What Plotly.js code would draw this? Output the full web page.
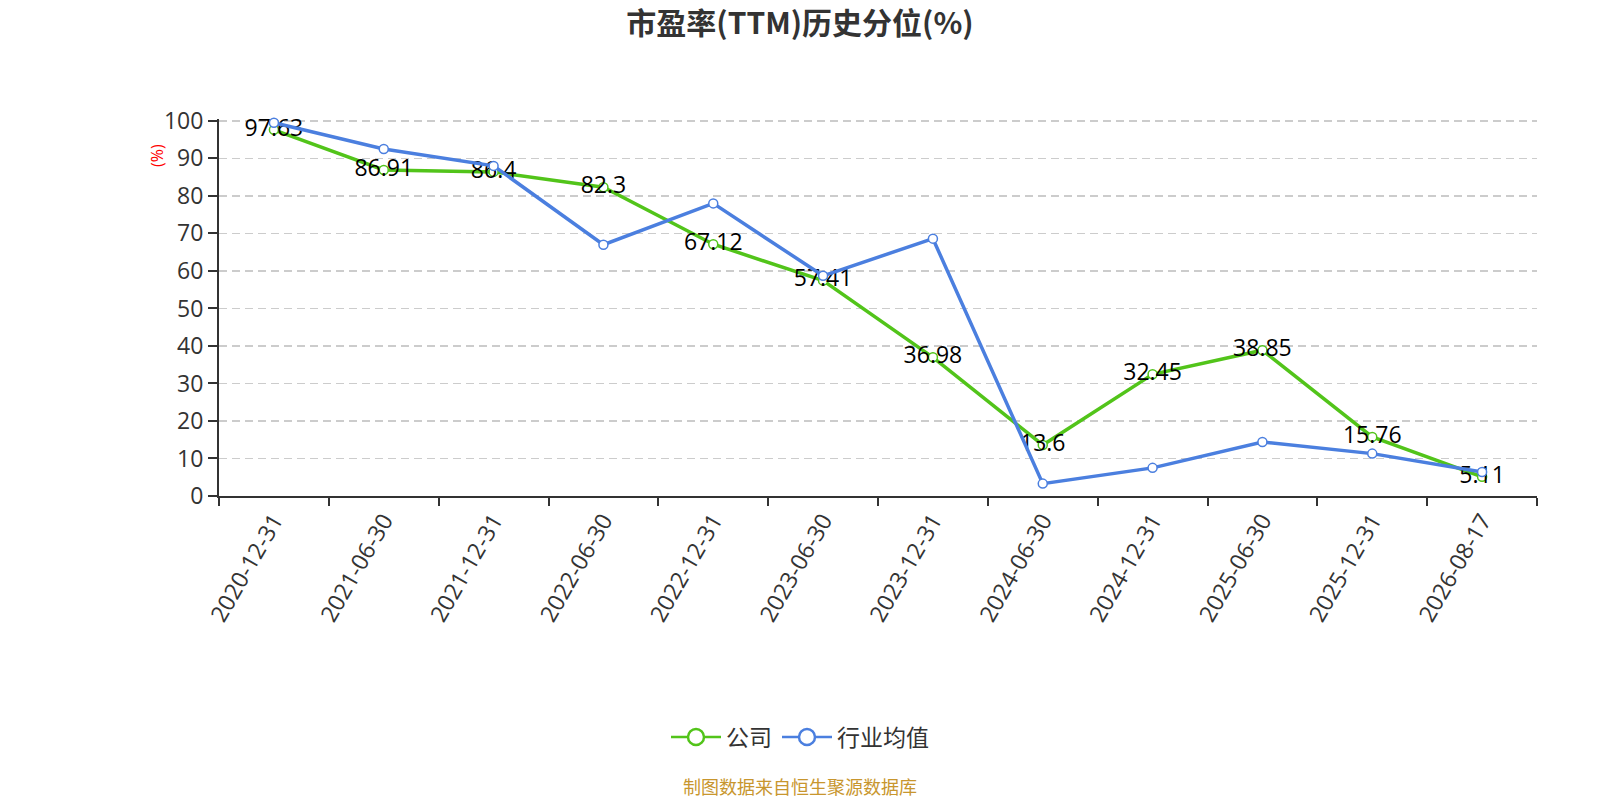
<!DOCTYPE html>
<html>
<head>
<meta charset="utf-8">
<script src="https://cdn.plot.ly/plotly-3.0.1.min.js"></script>
<style>html,body{margin:0;padding:0;background:#fff}#chart{width:1600px;height:800px}</style>
</head>
<body>
<div id="chart"></div>
<script>
const categories = ["2020-12-31","2021-06-30","2021-12-31","2022-06-30","2022-12-31","2023-06-30","2023-12-31","2024-06-30","2024-12-31","2025-06-30","2025-12-31","2026-08-17"];
const companyValues = [97.63, 86.91, 86.4, 82.3, 67.12, 57.41, 36.98, 13.6, 32.45, 38.85, 15.76, 5.11];
const industryValues = [99.5, 92.5, 88.0, 67.0, 78.0, 58.7, 68.6, 3.3, 7.5, 14.4, 11.3, 6.4];
const seriesNames = ["公司", "行业均值"];
const yTicks = [0,10,20,30,40,50,60,70,80,90,100];

const GREEN = "#52c41a";
const BLUE = "#4b7fdf";
const FONT = '"Open Sans", "Noto Sans CJK SC", sans-serif';
const CJK = '"Noto Sans CJK SC", "Open Sans", sans-serif';

const traces = [
  {
    x: categories, y: companyValues, type: "scatter", mode: "lines+markers+text",
    name: seriesNames[0], showlegend: false,
    line: {color: GREEN, width: 3.5},
    marker: {symbol: "circle", size: 9, color: "#ffffff", line: {color: GREEN, width: 1.5}},
    text: companyValues.map(String), textposition: "middle center",
    textfont: {family: FONT, size: 23, color: "#000000"},
    cliponaxis: false, hoverinfo: "x+y"
  },
  {
    x: categories, y: industryValues, type: "scatter", mode: "lines+markers",
    name: seriesNames[1], showlegend: false,
    line: {color: BLUE, width: 3.5},
    marker: {symbol: "circle", size: 9, color: "#ffffff", line: {color: BLUE, width: 1.5}},
    cliponaxis: false, hoverinfo: "x+y"
  },
  {
    x: [null], y: [null], type: "scatter", mode: "lines+markers", name: seriesNames[0],
    line: {color: GREEN, width: 2.5},
    marker: {symbol: "circle", size: 16, color: "#ffffff", line: {color: GREEN, width: 2.5}}
  },
  {
    x: [null], y: [null], type: "scatter", mode: "lines+markers", name: seriesNames[1],
    line: {color: BLUE, width: 2.5},
    marker: {symbol: "circle", size: 16, color: "#ffffff", line: {color: BLUE, width: 2.5}}
  }
];

const layout = {
  width: 1600, height: 800,
  paper_bgcolor: "#ffffff", plot_bgcolor: "#ffffff",
  margin: {l: 219, r: 63, t: 119, b: 304, pad: 0},
  font: {family: FONT, color: "#333333"},
  title: {
    text: "<b>市盈率(TTM)历史分位(%)</b>",
    font: {family: CJK, size: 30, color: "#333333"},
    x: 0.5, xref: "container", xanchor: "center",
    y: 1 - 23/800, yref: "container", yanchor: "middle"
  },
  xaxis: {
    type: "category", categoryorder: "array", categoryarray: categories,
    range: [-0.5, categories.length - 0.5],
    tickson: "boundaries", ticks: "outside", ticklen: 8, tickwidth: 2, tickcolor: "#333333",
    showline: true, linecolor: "#333333", linewidth: 2,
    showgrid: false, zeroline: false,
    tickangle: -60,
    tickfont: {family: FONT, size: 23, color: "#333333"},
    fixedrange: true
  },
  yaxis: {
    range: [0, 100.5], tickvals: yTicks, ticktext: yTicks.map(String),
    ticks: "outside", ticklen: 9, tickwidth: 2, tickcolor: "#333333",
    showline: true, linecolor: "#333333", linewidth: 2,
    showgrid: true, gridcolor: "#cccccc", gridwidth: 1.5, griddash: "8px,5px",
    zeroline: false,
    tickfont: {family: FONT, size: 23, color: "#333333"},
    fixedrange: true
  },
  showlegend: true,
  legend: {
    orientation: "h", x: 0.5, xref: "container", xanchor: "center",
    y: 1 - 737/800, yref: "container", yanchor: "middle",
    font: {family: CJK, size: 23, color: "#333333"},
    itemwidth: 50, itemsizing: "trace", bgcolor: "rgba(0,0,0,0)"
  },
  annotations: [
    {
      text: "(%)", textangle: -90, showarrow: false,
      xref: "paper", yref: "paper",
      x: (157 - 219) / 1318, y: (496 - 156) / 377,
      xanchor: "center", yanchor: "middle",
      font: {family: FONT, size: 16, color: "#ff0000"}
    },
    {
      text: "制图数据来自恒生聚源数据库", showarrow: false,
      xref: "paper", yref: "paper",
      x: (800 - 219) / 1318, y: (496 - 786) / 377,
      xanchor: "center", yanchor: "middle",
      font: {family: CJK, size: 18, color: "#c8962e"}
    }
  ]
};

Plotly.newPlot("chart", traces, layout, {displayModeBar: false, staticPlot: true});
</script>
</body>
</html>
